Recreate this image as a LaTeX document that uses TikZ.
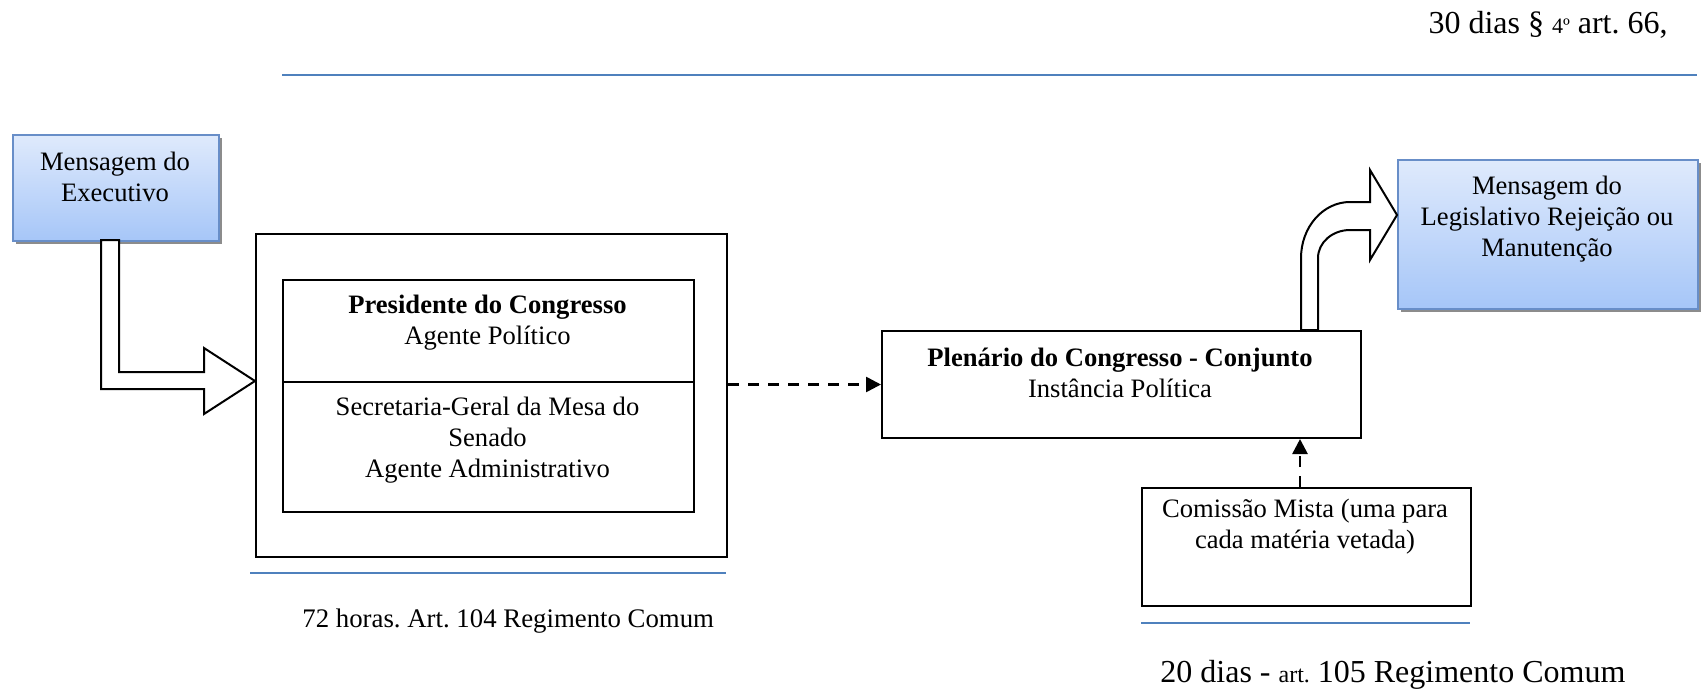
\documentclass[tikz,border=0pt]{standalone}
\usepackage{fontspec}
\setmainfont{Liberation Serif}
\usetikzlibrary{arrows.meta,shadows}
\frenchspacing

\definecolor{boxtop}{RGB}{223,234,252}
\definecolor{boxbot}{RGB}{166,198,248}
\definecolor{boxedge}{RGB}{104,142,200}
\definecolor{rulecol}{RGB}{79,129,189}

\tikzset{
  msgbox/.style={draw=boxedge, line width=0.9pt, top color=boxtop, bottom color=boxbot,
    drop shadow={shadow xshift=1.5pt, shadow yshift=-1.5pt, fill=black!45, opacity=1},
    anchor=north west, inner sep=0pt},
  plainbox/.style={draw, line width=1pt, fill=white, anchor=north west, inner sep=0pt},
  % multi-line labels: the base anchor sits on the baseline of the last line
  boxtext/.style={font=\fontsize{13.3}{15.5}\selectfont, align=center, inner sep=0pt, anchor=base},
  rulel/.style={draw=rulecol, line width=1pt},
  dasharrow/.style={line width=1.3pt, dash pattern=on 5.5pt off 4.5pt,
    -{Triangle[length=7.5pt,width=7.5pt]}},
  blockarrow/.style={draw, line width=1pt, fill=white, line join=miter}
}

\begin{document}
\begin{tikzpicture}[x=0.5pt, y=-0.5pt]
\useasboundingbox (0,0) rectangle (1701,690);

% rules
\draw[rulel] (282,75) -- (1697,75);
\draw[rulel] (250,573) -- (726,573);
\draw[rulel] (1141,623) -- (1470,623);

% boxes
\node[msgbox, minimum width=103pt, minimum height=53pt] (exec) at (12,134) {};
\node[plainbox, minimum width=235.5pt, minimum height=161.5pt] (outer) at (255,233) {};
\node[plainbox, minimum width=205.5pt, minimum height=116pt] (inner) at (282,279) {};
\draw[line width=1pt] (inner.west |- 0,382) coordinate (divw) -- (inner.east |- 0,382) coordinate (dive);
\node[plainbox, minimum width=239.5pt, minimum height=53.5pt] (plen) at (881,330) {};
\node[plainbox, minimum width=164.5pt, minimum height=59pt] (com) at (1141,487) {};
\node[msgbox, minimum width=150pt, minimum height=74.5pt] (legis) at (1397,159) {};

% box texts
\node[boxtext] (exect) at (115,201) {Mensagem do\\Executivo};
\node[boxtext] (pres) at (487.5,344) {\textbf{Presidente do Congresso}\\Agente Político};
\node[boxtext] (sec) at (487.5,477) {Secretaria-Geral da Mesa do\\Senado\\Agente Administrativo};
\node[boxtext] (plent) at (1120,397) {\textbf{Plenário do Congresso - Conjunto}\\Instância Política};
\node[boxtext] (comt) at (1305,548) {Comissão Mista (uma para\\cada matéria vetada)};
\node[boxtext] (legist) at (1547,256) {Mensagem do\\Legislativo Rejeição ou\\Manutenção};

% captions
\node[anchor=base east, inner sep=0pt] (cap30) at (1668,34)
  {\fontsize{16}{19}\selectfont 30 dias § {\fontsize{11}{13}\selectfont 4º} art. 66,};
\node[anchor=base west, inner sep=0pt] (cap72) at (302,627)
  {\fontsize{13.4}{15.5}\selectfont 72 horas. Art. 104 Regimento Comum};
\node[anchor=base west, inner sep=0pt] (cap20) at (1160,682)
  {\fontsize{16}{19}\selectfont 20 dias - {\fontsize{12}{14}\selectfont art.} 105 Regimento Comum};

% block arrow: executive message into the congress box
\draw[blockarrow] (101,240) -- (101,389) -- (204,389) -- (204,414) -- (255,381)
  -- (204,348) -- (204,372) -- (119,372) -- (119,240) -- cycle;

% bent block arrow: plenary out to the legislative message
\draw[blockarrow] (1301,330) -- (1301,258)
  arc[start angle=180, end angle=270, x radius=49, y radius=56]
  -- (1370,202) -- (1370,170) -- (1397,215) -- (1370,260) -- (1370,230) -- (1350,230)
  arc[start angle=270, end angle=180, x radius=32, y radius=28]
  -- (1318,330) -- cycle;

% dashed connectors
\draw[dasharrow] (plen.west -| outer.east) -- (plen.west);
\coordinate (cx) at (1300,0);
\draw[dasharrow] (com.north -| cx) -- (plen.south -| cx);
\end{tikzpicture}
\end{document}
